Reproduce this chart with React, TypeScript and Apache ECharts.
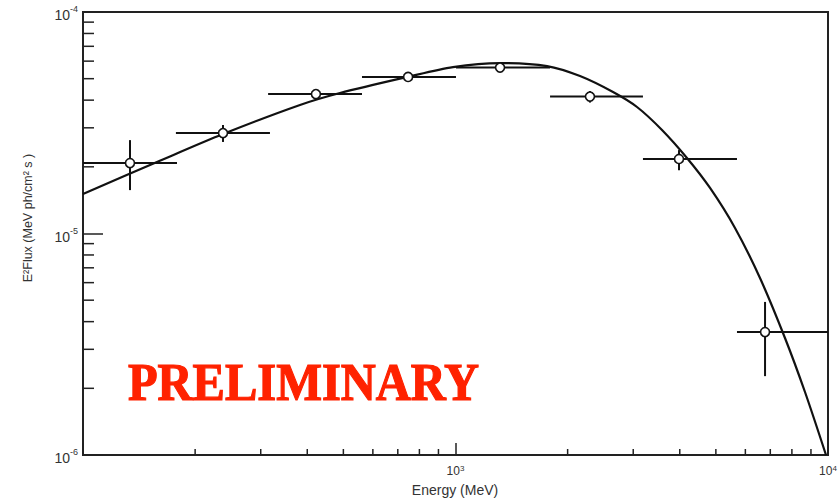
import React, { useEffect, useRef } from "react";
import * as echarts from "echarts";

// Spectral points: energy (MeV), E^2 flux (MeV ph/cm^2 s) and their bin / error extents
const POINT_E = [133.7, 237.6, 422, 746, 1317, 2296, 3981, 6776];
const POINT_FLUX = [2.08e-5, 2.84e-5, 4.26e-5, 5.09e-5, 5.61e-5, 4.15e-5, 2.17e-5, 3.59e-6];
const E_LOW = [100, 177.6, 314, 561, 1003, 1794, 3186, 5697];
const E_HIGH = [178.8, 317.6, 561, 1003, 1794, 3186, 5697, 10000];
const FLUX_LOW = [1.57e-5, 2.59e-5, 4.08e-5, 4.9e-5, 5.4e-5, 3.9e-5, 1.93e-5, 2.27e-6];
const FLUX_HIGH = [2.64e-5, 3.09e-5, 4.45e-5, 5.3e-5, 5.8e-5, 4.4e-5, 2.38e-5, 4.91e-6];

// Fitted spectral model, sampled along the curve
const CURVE_E = [100, 158, 237.6, 382.4, 489.7, 741.2, 984.7, 1316.8, 1761, 2159, 2648, 3071, 3584, 4182, 4823, 5628, 6568, 7665, 8674, 9877];
const CURVE_FLUX = [1.508e-5, 2.102e-5, 2.812e-5, 3.804e-5, 4.308e-5, 5.087e-5, 5.643e-5, 5.883e-5, 5.702e-5, 5.14e-5, 4.353e-5, 3.725e-5, 2.933e-5, 2.192e-5, 1.605e-5, 1.059e-5, 6.297e-6, 3.375e-6, 1.925e-6, 1.0e-6];

// Axis ranges and minor tick values (log decades)
const X_MIN = 100;
const X_MAX = 10000;
const Y_MIN = 1e-6;
const Y_MAX = 1e-4;
const X_MINOR = [200, 300, 400, 500, 600, 700, 800, 900, 2000, 3000, 4000, 5000, 6000, 7000, 8000, 9000];
const Y_MINOR = [2e-6, 3e-6, 4e-6, 5e-6, 6e-6, 7e-6, 8e-6, 9e-6, 2e-5, 3e-5, 4e-5, 5e-5, 6e-5, 7e-5, 8e-5, 9e-5];

const X_TITLE = "Energy (MeV)";
const Y_TITLE = "E²Flux (MeV ph/cm² s )";
const STAMP = "PRELIMINARY";

const SANS = "'Liberation Sans', Arial, Helvetica, sans-serif";
const INK = "#111";
const STAMP_RED = "#ff2200";

function powerLabel(v: number, hideBelow?: number) {
  if (hideBelow !== undefined && v <= hideBelow * 1.0001) return "";
  const exp = Math.round(Math.log10(v));
  return `{b|10}{s|${exp}}`;
}

export default function App() {
  const ref = useRef<HTMLDivElement>(null);

  useEffect(() => {
    if (!ref.current) return;
    const chart = echarts.init(ref.current, undefined, { renderer: "svg" });

    const points = POINT_E.map((e, i) => [e, POINT_FLUX[i], E_LOW[i], E_HIGH[i], FLUX_LOW[i], FLUX_HIGH[i]]);
    const curve = CURVE_E.map((e, i) => [e, CURVE_FLUX[i]]);

    const option: echarts.EChartsOption = {
      animation: false,
      backgroundColor: "#fff",
      grid: {
        left: 83,
        right: 12,
        top: 12,
        bottom: 43,
        show: true,
        borderColor: "#222",
        borderWidth: 2,
        backgroundColor: "transparent",
      },
      xAxis: {
        type: "log",
        logBase: 10,
        min: X_MIN,
        max: X_MAX,
        splitLine: { show: false },
        axisLine: { show: true, lineStyle: { color: "#222", width: 2 } },
        axisTick: { show: true, inside: true, length: 12, lineStyle: { color: "#222", width: 1.5 } },
        axisLabel: {
          margin: 9,
          color: "#333",
          formatter: (v: number) => powerLabel(v, X_MIN),
          rich: {
            b: { fontSize: 12, fontFamily: SANS, color: "#333", lineHeight: 13 },
            s: { fontSize: 8, fontFamily: SANS, color: "#333", lineHeight: 8, verticalAlign: "top" },
          },
        },
      },
      yAxis: {
        type: "log",
        logBase: 10,
        min: Y_MIN,
        max: Y_MAX,
        splitLine: { show: false },
        axisLine: { show: true, lineStyle: { color: "#222", width: 2 } },
        axisTick: { show: true, inside: true, length: 20, lineStyle: { color: "#222", width: 1.5 } },
        axisLabel: {
          margin: 5,
          color: "#333",
          formatter: (v: number) => powerLabel(v),
          rich: {
            b: { fontSize: 14, fontFamily: SANS, color: "#333", lineHeight: 15, padding: [6, 0, 0, 0] },
            s: { fontSize: 9, fontFamily: SANS, color: "#333", lineHeight: 9, verticalAlign: "top" },
          },
        },
      },
      graphic: [
        {
          type: "text",
          x: 28,
          y: 218,
          rotation: Math.PI / 2,
          style: {
            text: Y_TITLE,
            fontSize: 12.5,
            fontFamily: SANS,
            fill: "#333",
            align: "center",
            verticalAlign: "middle",
          },
        },
        {
          type: "text",
          x: 455,
          y: 490,
          style: {
            text: X_TITLE,
            fontSize: 14,
            fontFamily: SANS,
            fill: "#333",
            align: "center",
            verticalAlign: "middle",
          },
        },
        {
          type: "text",
          x: 128,
          y: 382,
          scaleX: 0.915,
          z: 10,
          style: {
            text: STAMP,
            fontSize: 53,
            fontWeight: "bold",
            fontFamily: "'Liberation Serif', 'DejaVu Serif', serif",
            fill: STAMP_RED,
            stroke: STAMP_RED,
            lineWidth: 1.2,
            align: "left",
            verticalAlign: "middle",
          },
        },
      ],
      series: [
        {
          // minor ticks along the energy axis
          type: "custom",
          silent: true,
          data: X_MINOR.map((v) => [v, Y_MIN]),
          encode: { x: 0, y: 1 },
          renderItem: (_p: any, api: any) => {
            const c = api.coord([api.value(0), api.value(1)]);
            return {
              type: "line",
              shape: { x1: c[0], y1: c[1], x2: c[0], y2: c[1] - 6 },
              style: { stroke: "#222", lineWidth: 1.5 },
            };
          },
        },
        {
          // minor ticks along the flux axis
          type: "custom",
          silent: true,
          data: Y_MINOR.map((v) => [X_MIN, v]),
          encode: { x: 0, y: 1 },
          renderItem: (_p: any, api: any) => {
            const c = api.coord([api.value(0), api.value(1)]);
            return {
              type: "line",
              shape: { x1: c[0], y1: c[1], x2: c[0] + 11, y2: c[1] },
              style: { stroke: "#222", lineWidth: 1.5 },
            };
          },
        },
        {
          // model curve
          type: "line",
          data: curve,
          smooth: 0.3,
          showSymbol: false,
          silent: true,
          lineStyle: { color: INK, width: 2.2 },
          z: 3,
        },
        {
          // error bars
          type: "custom",
          silent: true,
          data: points,
          encode: { x: 0, y: 1 },
          z: 4,
          renderItem: (_p: any, api: any) => {
            const e = api.value(0);
            const f = api.value(1);
            const l = api.coord([api.value(2), f]);
            const r = api.coord([api.value(3), f]);
            const lo = api.coord([e, api.value(4)]);
            const hi = api.coord([e, api.value(5)]);
            const st = { stroke: INK, lineWidth: 2 };
            return {
              type: "group",
              children: [
                { type: "line", shape: { x1: l[0], y1: l[1], x2: r[0], y2: r[1] }, style: st },
                { type: "line", shape: { x1: lo[0], y1: lo[1], x2: hi[0], y2: hi[1] }, style: st },
              ],
            };
          },
        },
        {
          // measured points
          type: "scatter",
          data: points.map((p) => [p[0], p[1]]),
          symbol: "circle",
          symbolSize: 9,
          silent: true,
          itemStyle: { color: "#fff", borderColor: INK, borderWidth: 1.6, opacity: 1 },
          z: 5,
        },
      ],
    };

    chart.setOption(option);
    return () => chart.dispose();
  }, []);

  return <div ref={ref} style={{ position: "fixed", left: 0, top: 0, width: 840, height: 498 }} />;
}
